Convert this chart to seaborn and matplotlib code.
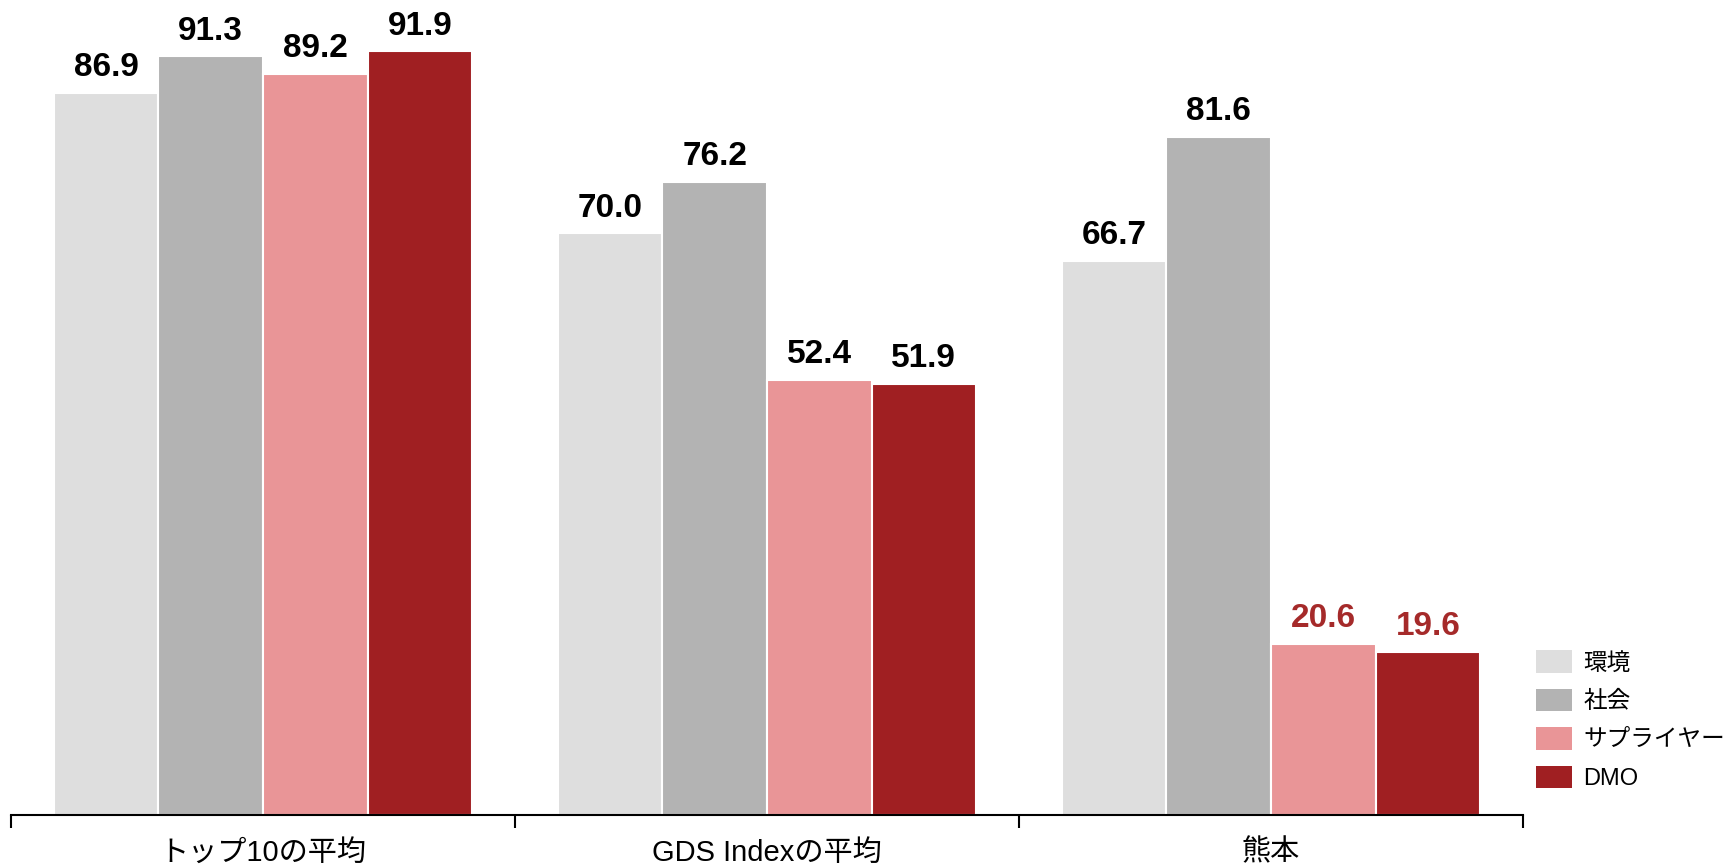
import matplotlib
matplotlib.use("Agg")
import matplotlib.pyplot as plt
import seaborn as sns
import pandas as pd
from matplotlib.patches import Patch

categories = ["トップ10の平均", "GDS Indexの平均", "熊本"]
series = ["環境", "社会", "サプライヤー", "DMO"]
env_vals = [86.9, 70.0, 66.7]
soc_vals = [91.3, 76.2, 81.6]
sup_vals = [89.2, 52.4, 20.6]
dmo_vals = [91.9, 51.9, 19.6]
colors = ["#DEDEDE", "#B3B3B3", "#E99597", "#A01F22"]

sns.set_theme(style="white")
plt.rcParams['font.family'] = ['Liberation Sans', 'Noto Sans CJK JP', 'DejaVu Sans']

rows = []
for s, vals in zip(series, [env_vals, soc_vals, sup_vals, dmo_vals]):
    for c, v in zip(categories, vals):
        rows.append({"category": c, "series": s, "value": v})
df = pd.DataFrame(rows)

fig = plt.figure(figsize=(17.27, 8.68), dpi=100)
ax = fig.add_axes([11/1727, 53/868, (1523-11)/1727, 806/868])
sns.barplot(data=df, x="category", y="value", hue="series", order=categories,
            hue_order=series, palette=colors, width=0.83, gap=0,
            edgecolor="white", linewidth=1.5, ax=ax, legend=False, saturation=1)

ax.set_ylim(0, 97)
ax.set_xlim(-0.5, 2.5)

for i, s in enumerate(series):
    cont = ax.containers[i]
    for j, bar in enumerate(cont):
        v = bar.get_height()
        col = "#A52A2A" if (j == 2 and i >= 2) else "black"
        ax.annotate(f"{v:.1f}", (bar.get_x() + bar.get_width() / 2, v),
                    xytext=(0, 7), textcoords="offset points", ha="center",
                    va="bottom", fontsize=24, fontweight="bold", color=col)

for sp in ["top", "right", "left"]:
    ax.spines[sp].set_visible(False)
ax.spines["bottom"].set_color("black")
ax.spines["bottom"].set_linewidth(1.5)
ax.set_yticks([])
ax.set_xlabel("")
ax.set_ylabel("")
ax.set_xticks([-0.5, 0.5, 1.5, 2.5])
ax.set_xticklabels([])
ax.set_xticks([0, 1, 2], minor=True)
ax.set_xticklabels(categories, minor=True, fontsize=21, color="black")
ax.tick_params(axis="x", which="major", length=9, width=1.5, color="black", direction="out", bottom=True)
ax.tick_params(axis="x", which="minor", length=0, pad=17, labelcolor="black")

handles = [Patch(facecolor=c, edgecolor="none") for c in colors]
leg = fig.legend(handles, series, loc="center left", bbox_to_anchor=(1515/1727, 1 - 720/868),
           frameon=False, fontsize=17, handlelength=1.5, handleheight=1.1,
           labelspacing=0.6, handletextpad=0.5)
for t in leg.get_texts():
    t.set_color("black")

fig.savefig("out.png", dpi=100)
